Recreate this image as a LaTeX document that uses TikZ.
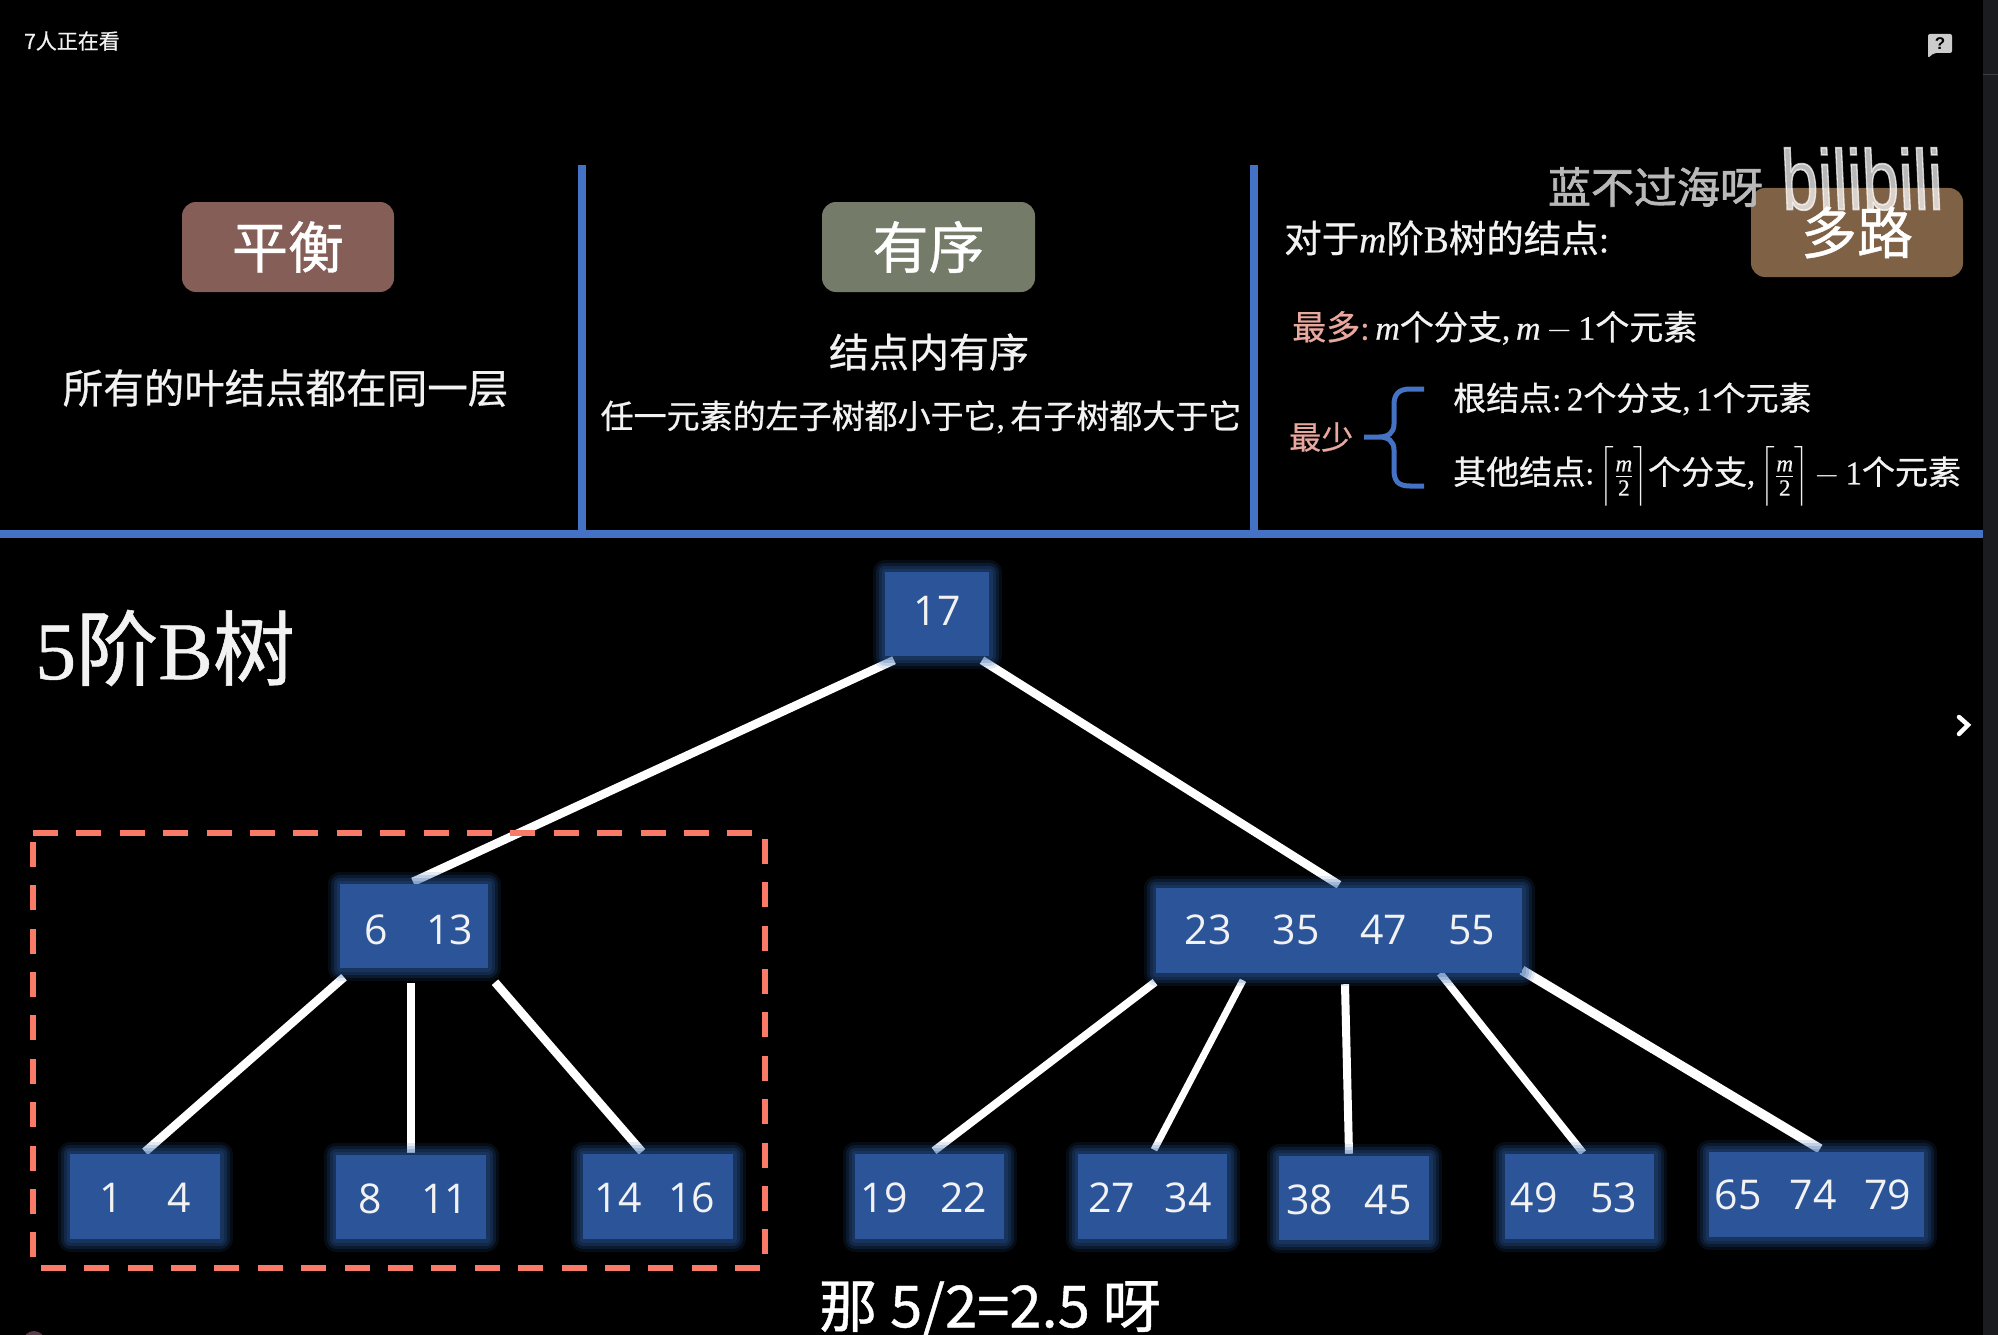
\RequirePackage{fix-cm}
\documentclass[tikz,border=0pt]{standalone}
\usepackage{amsmath}
\usepackage{fontspec}
\setmainfont[FakeBold=0.6]{Liberation Serif}
\newfontfamily\cj[FakeBold=0.7]{Noto Sans CJK SC}
\newfontfamily\wmf[FakeBold=1.6]{Noto Sans CJK SC}
\newfontfamily\lgf{Liberation Sans}
\newfontfamily\lgfb[FakeBold=2]{Liberation Sans}
\newfontfamily\keyf{Open Sans}
\definecolor{linec}{HTML}{4472C4}
\definecolor{boxc}{HTML}{2C5599}
\definecolor{glowc}{HTML}{2C5FA8}
\definecolor{pinkc}{HTML}{E8A89E}
\definecolor{redd}{HTML}{F97A66}
\definecolor{textw}{HTML}{F2F2F2}
\definecolor{stripc}{HTML}{1B1C1F}
\definecolor{blobc}{HTML}{5A3A4A}
\newcommand{\fs}[1]{\fontsize{#1}{#1}\selectfont}
\newcommand{\mi}{\textit{m}}
\newcommand{\cg}{\left\lceil\frac{\text{\mi}}{\text{2}}\rule[-20pt]{0pt}{56pt}\right\rceil}
\pgfdeclarelayer{background}
\pgfsetlayers{background,main}
\tikzset{
  x=1pt,y=-1pt,
  btree/.style={rectangle,inner sep=0pt,fill=boxc,text=textw,
    font=\keyf\fs{41},text height=32pt,text depth=0pt,
    preaction={draw=glowc,line width=25pt,draw opacity=.13,line join=round},
    preaction={draw=glowc,line width=19pt,draw opacity=.18,line join=round},
    preaction={draw=glowc,line width=13pt,draw opacity=.22,line join=round},
    preaction={draw=glowc,line width=7pt,draw opacity=.22,line join=round}},
  badge/.style={rectangle,rounded corners=14pt,inner sep=0pt,text=white,font=\cj\fs{56}},
  lbl/.style={anchor=west,inner sep=0pt,text=textw,font=\fs{33}},
  ctr/.style={inner sep=0pt,text=textw},
  edgeline/.style={draw=white,line width=8.5pt},
  rule/.style={draw=linec,line width=8.5pt},
}
\begin{document}
\begin{tikzpicture}
\useasboundingbox (0,0) rectangle (1998,1335);
\begin{pgfonlayer}{background}
\fill[black] (0,0) rectangle (1998,1335);
\fill[stripc] (1983,0) rectangle (1998,1335);
\draw[white!25!black,line width=.6pt] (1983,74) -- (1998,74);
\end{pgfonlayer}
% rules
\draw[rule] (0,534) -- (1983,534);
\draw[rule] (582,165) -- (582,534);
\draw[rule] (1254,165) -- (1254,534);
% header
\node[anchor=west,ctr,font=\cj\fs{21}] (viewers) at (24,41) {7人正在看};
\fill[white!80!black,rounded corners=2pt] (1928,34) -- (1952,34) -- (1952,53) -- (1934,53) -- (1928,58) -- cycle;
\node[inner sep=0pt,text=black,font=\lgf\bfseries\fs{17}] (helpmark) at (1940,43.5) {?};
\draw[white,line width=4.5pt,line cap=round,line join=miter] (1959,717) -- (1968,725) -- (1959,734);
% columns
\node[badge,fill={rgb,255:red,133;green,94;blue,88},minimum width=212pt,minimum height=90pt] (balance) at (288,247) {平衡};
\node[badge,fill={rgb,255:red,117;green,123;blue,105},minimum width=213pt,minimum height=90pt] (order) at (928.5,247) {有序};
\node[badge,fill={rgb,255:red,127;green,97;blue,69},minimum width=212pt,minimum height=89pt] (multi) at (1857,232.5) {};
\node[ctr,font=\cj\fs{40.5}] (t1) at (285.5,388) {所有的叶结点都在同一层};
\node[ctr,font=\cj\fs{40}] (t2) at (929,352) {结点内有序};
\node[ctr,font=\fs{33}] (t3) at (921,417) {{\cj 任一元素的左子树都小于它},\,{\cj 右子树都大于它}};
% right column
\node[inner sep=0pt,text=white!72!black,font=\wmf\fs{43}] (wm) at (1655.5,187) {蓝不过海呀};
\node[lbl,font=\fs{37.5}] (t4) at (1284,238) {{\cj 对于}\mi{\cj 阶}B{\cj 树的结点}:};
\node[lbl,font=\fs{34}] (t5) at (1292,328) {{\color{pinkc}\cj 最多}{\color{pinkc}:}\,\mi{\cj 个分支},\,\mi\,$-$\,1{\cj 个元素}};
\node[lbl,text=pinkc,font=\fs{32}] (t6) at (1289,437) {\cj 最少};
\node[lbl] (t7) at (1453,399) {{\cj 根结点}:\,2{\cj 个分支},\,1{\cj 个元素}};
\node[lbl] (t8) at (1453,476) {{\cj 其他结点}:\,$\cg${\cj 个分支},\,$\cg-$\,1{\cj 个元素}};
\draw[linec,line width=5pt]
  (1424,389) -- (1410,389) .. controls (1398,389) and (1394,395) .. (1394,405)
  -- (1394,424) .. controls (1394,433) and (1388,437) .. (1379,437) -- (1364,437)
  -- (1379,437) .. controls (1388,437) and (1394,441) .. (1394,450)
  -- (1394,470) .. controls (1394,481) and (1398,486) .. (1410,486) -- (1424,486);
% title, bottom line
\node[anchor=west,ctr,font=\fs{82}] (title) at (35,648) {5{\cj 阶}B{\cj 树}};
\node[anchor=north,inner sep=0pt,text=white,font=\cj\fs{58}] (caption) at (990,1281) {那 5/2=2.5 呀};
\begin{scope}
\clip (0,1300) rectangle (80,1335);
\fill[blobc] (34,1342) circle (11);
\end{scope}
% tree
\node[btree,minimum width=104pt,minimum height=84pt,text height=23pt] (n17) at (937,614) {17};
\node[btree,minimum width=148pt,minimum height=84pt,text height=37pt] (n613) at (414,926) {\hspace*{9.4pt}6\hspace{38.5pt}13};
\node[btree,minimum width=366pt,minimum height=85pt,text height=27pt] (n23) at (1339,930.5) {\hspace*{2pt}23\hspace{41pt}35\hspace{41pt}47\hspace{41pt}55};
\node[btree,minimum width=150pt,minimum height=85pt] (n14) at (145,1196.5) {1\hspace{45pt}4};
\node[btree,minimum width=150pt,minimum height=84pt] (n811) at (411,1197) {\hspace*{4pt}8\hspace{39.5pt}11};
\node[btree,minimum width=150pt,minimum height=85pt] (n1416) at (658,1196.5) {14\hspace{27pt}16\hspace*{6pt}};
\node[btree,minimum width=149pt,minimum height=85pt] (n1922) at (929.5,1196.5) {19\hspace{32.5pt}22\hspace*{11pt}};
\node[btree,minimum width=149pt,minimum height=85pt] (n2734) at (1152.5,1196.5) {27\hspace{29.5pt}34\hspace*{5pt}};
\node[btree,minimum width=150pt,minimum height=84pt,text height=33pt] (n3845) at (1354,1198) {38\hspace{31.5pt}45\hspace*{10pt}};
\node[btree,minimum width=149pt,minimum height=85pt] (n4953) at (1579.5,1196.5) {49\hspace{32.5pt}53\hspace*{11pt}};
\node[btree,minimum width=215pt,minimum height=85pt,text height=30.5pt] (n657) at (1816.5,1194.5) {65\hspace{28pt}74\hspace{28pt}79\hspace*{7pt}};
\begin{pgfonlayer}{background}
\draw[edgeline] ([xshift=-43pt,yshift=-4pt]n17.south) -- ([xshift=-1pt,yshift=2pt]n613.north);
\draw[edgeline] ([xshift=45pt,yshift=-4pt]n17.south) -- ([yshift=3pt]n23.north);
\draw[edgeline] ([xshift=-70pt,yshift=-9pt]n613.south) -- ([yshift=2pt]n14.north);
\draw[edgeline] ([xshift=-3pt,yshift=-15pt]n613.south) -- ([yshift=2pt]n811.north);
\draw[edgeline] ([xshift=81pt,yshift=-14pt]n613.south) -- ([xshift=-16pt,yshift=2pt]n1416.north);
\draw[edgeline,line width=8pt] ([xshift=-184pt,yshift=-9pt]n23.south) -- ([xshift=4.5pt,yshift=3pt]n1922.north);
\draw[edgeline,line width=7pt] ([xshift=-96pt,yshift=-7pt]n23.south) -- ([xshift=1.5pt,yshift=4pt]n2734.north);
\draw[edgeline,line width=8pt] ([xshift=6pt,yshift=-11pt]n23.south) -- ([xshift=-5pt,yshift=2pt]n3845.north);
\draw[edgeline,line width=7.5pt] ([xshift=101pt]n23.south) -- ([xshift=3.5pt,yshift=1pt]n4953.north);
\draw[edgeline,line width=9.5pt] ([xshift=183pt,yshift=3pt]n23.south) -- ([xshift=3.5pt,yshift=3pt]n657.north);
\draw[redd,line width=5.5pt,dash pattern=on 25pt off 18.4pt] (33,833) -- (765,833) -- (765,1268) -- (33,1268) -- cycle;
\end{pgfonlayer}
% watermark and badge text
\node[inner sep=0pt,text=white,text opacity=.72,font=\lgfb\fs{55},xscale=1.2,yscale=1.55,xslant=-.06,transform shape] (logo) at (1862,179) {bilibili};
\node[ctr,text=white,font=\cj\fs{56}] (multitext) at (1857,232.5) {多路};
\end{tikzpicture}
\end{document}
